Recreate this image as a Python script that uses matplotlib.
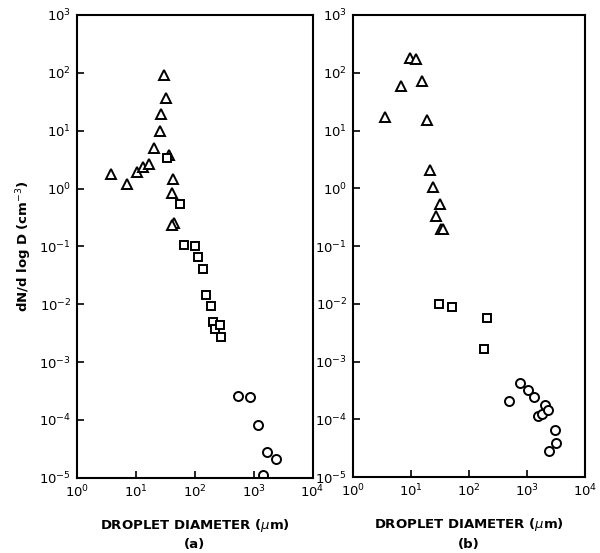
import numpy as np
import matplotlib
matplotlib.use('Agg')
import matplotlib.pyplot as plt

# panel (a)
a_tri_d = [3.8, 7.0, 10.7, 13.5, 17, 20.5, 25.5, 27, 30, 32, 36.7, 43.5, 41.8, 44.7, 41]
a_tri_n = [1.8, 1.2, 1.96, 2.4, 2.6, 5.0, 9.9, 19.5, 90, 37, 3.75, 1.48, 0.82, 0.25, 0.23]
a_sq_d = [34.5, 56, 66, 100, 114, 139, 155, 190, 202, 224, 268, 276]
a_sq_n = [3.4, 0.54, 0.105, 0.1, 0.065, 0.041, 0.0143, 0.0094, 0.005, 0.0037, 0.0044, 0.0027]
a_ci_d = [540, 870, 1180, 1700, 2350, 1450]
a_ci_n = [2.6e-4, 2.45e-4, 8.1e-5, 2.8e-5, 2.1e-5, 1.1e-5]

# panel (b)
b_tri_d = [3.6, 6.7, 9.5, 12.3, 15.8, 18.7, 21.3, 24.2, 32, 27, 33, 36.5]
b_tri_n = [17.2, 58, 180, 175, 73, 15.5, 2.07, 1.04, 0.54, 0.33, 0.2, 0.2]
b_sq_d = [30, 51, 208, 183]
b_sq_n = [0.0098, 0.0087, 0.0056, 0.00165]
b_ci_d = [500, 765, 1040, 1340, 2080, 1520, 1830, 2350, 3000, 3130, 2420]
b_ci_n = [2.1e-4, 4.2e-4, 3.2e-4, 2.45e-4, 1.8e-4, 1.17e-4, 1.26e-4, 1.44e-4, 6.7e-5, 3.9e-5, 2.8e-5]

x_ticks = [1, 10, 100, 1000, 10000]
y_ticks = [1e-5, 1e-4, 1e-3, 1e-2, 1e-1, 1, 10, 100, 1000]

plt.rcParams['font.family'] = 'DejaVu Sans'
fig = plt.figure(figsize=(6.0, 5.53), dpi=100)
ax_a = fig.add_axes([0.128, 0.136, 0.393, 0.837])
ax_b = fig.add_axes([0.588, 0.137, 0.387, 0.836])

panels = [
    (ax_a, a_tri_d, a_tri_n, a_sq_d, a_sq_n, a_ci_d, a_ci_n, "(a)"),
    (ax_b, b_tri_d, b_tri_n, b_sq_d, b_sq_n, b_ci_d, b_ci_n, "(b)"),
]

for ax, td, tn, sd, sn, cd, cn, tag in panels:
    mk = dict(linestyle='none', markerfacecolor='white', markeredgecolor='black',
              markeredgewidth=1.4, clip_on=True)
    ax.plot(td, tn, marker='^', markersize=7.5, **mk)
    ax.plot(sd, sn, marker='s', markersize=5.5, **mk)
    ax.plot(cd, cn, marker='o', markersize=6.5, **mk)
    ax.set_xscale('log')
    ax.set_yscale('log')
    ax.set_xlim(1, 1e4)
    ax.set_ylim(1e-5, 1e3)
    ax.set_xticks(x_ticks)
    ax.set_yticks(y_ticks)
    ax.minorticks_off()
    ax.tick_params(direction='in', length=5, width=1.2, labelsize=9.5, pad=4)
    for s in ax.spines.values():
        s.set_linewidth(1.5)
    ax.set_xlabel("DROPLET DIAMETER ($\\mu$m)", fontsize=9.5,
                  fontweight='bold', labelpad=12)
    ax.text(0.5, -0.145, tag, transform=ax.transAxes, ha='center', va='center',
            fontsize=9.5, fontweight='bold')

ax_a.set_ylabel("dN/d log D (cm$^{-3}$)", fontsize=9.5, fontweight='bold', labelpad=4)

fig.savefig("out.png", dpi=100)
